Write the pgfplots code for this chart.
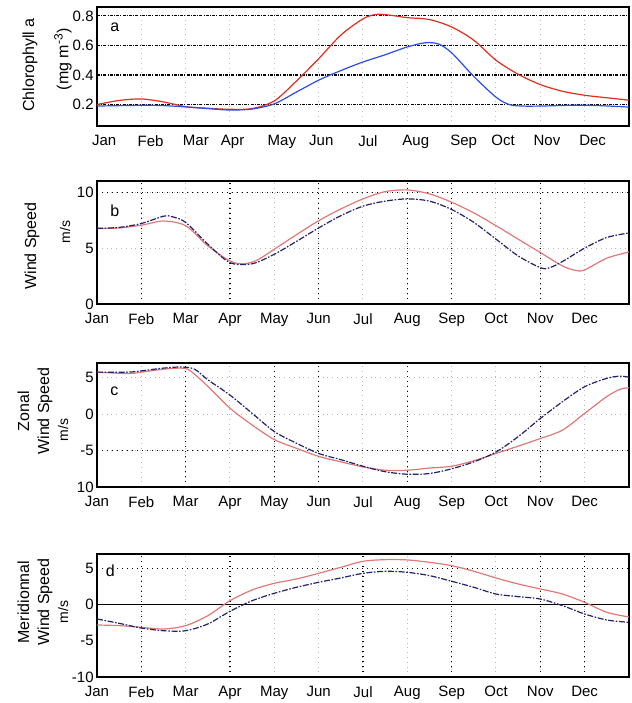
\documentclass[border=0pt]{standalone}
\usepackage{fontspec}
\setmainfont{Liberation Sans}
\usepackage{pgfplots}
\pgfplotsset{compat=1.18}

\definecolor{chlred}{RGB}{225,45,30}
\definecolor{chlblue}{RGB}{45,75,235}
\definecolor{wblue}{RGB}{35,35,105}
\definecolor{wred}{RGB}{225,120,120}

\tikzset{
  lightgrid/.style={gray!55, dotted, line width=0.5pt},
  darkgrid/.style={black, dotted, line width=0.6pt},
}
\pgfplotsset{
  panel/.style={
    anchor=north west, scale only axis, width=266pt,
    xmin=0, xmax=12,
    axis line style={black, line width=0.6pt},
    major tick length=0pt, minor tick length=0pt,
    tick label style={font=\fontsize{7.5}{9}\selectfont},
    yticklabel style={inner sep=1.5pt},
    xticklabel style={inner sep=2pt, yshift=-2.5pt},
  },
  months/.style={
    xtick={0,...,11},
    xticklabels={Jan,Feb,Mar,Apr,May,Jun,Jul,Aug,Sep,Oct,Nov,Dec},
  },
  blueline/.style={wblue, line width=0.6pt, smooth,
    dash pattern=on 3pt off 0.8pt on 0.8pt off 0.8pt},
  redline/.style={wred, line width=0.6pt, smooth},
}

\begin{document}
\begin{tikzpicture}
\useasboundingbox (0,0) rectangle (316pt,-351.5pt);
\tikzset{lab/.style={font=\fontsize{8}{10}\selectfont, rotate=90, align=center, inner sep=0pt}}

% a: chlorophyll
\begin{axis}[panel, at={(48.5pt,-3.5pt)}, height=59.5pt,
  ymin=0.055, ymax=0.86,
  xtick={0.16,1.21,2.23,3.06,4.17,5.06,6.11,7.19,8.27,9.16,10.15,11.18},
  xticklabels={Jan,Feb,Mar,Apr,May,Jun,Jul,Aug,Sep,Oct,Nov,Dec},
  minor xtick={1,...,11},
  xmajorgrids=false, xminorgrids=true, ymajorgrids=true,
  ytick={0.2,0.4,0.6,0.8}, yticklabels={0.2,0.4,0.6,0.8},
  minor grid style={gray!50, dotted, line width=0.5pt},
  major grid style={black, line width=0.6pt, dash pattern=on 1.5pt off 0.6pt on 0.5pt off 0.6pt},
]
\node[anchor=west, font=\fontsize{8}{9.5}\selectfont] at (rel axis cs:0.012,0.83) {a};
\addplot [chlred, line width=0.6pt, smooth] coordinates {
 (0,0.20)(0.5,0.228)(1,0.238)(1.5,0.218)(2,0.186)(2.5,0.175)(3,0.168)(3.5,0.173)
 (4,0.225)(4.5,0.36)(5,0.51)(5.5,0.67)(6,0.78)(6.3,0.81)(6.6,0.805)(7,0.788)
 (7.5,0.775)(8,0.725)(8.5,0.635)(9,0.5)(9.5,0.405)(10,0.335)(10.5,0.29)(11,0.263)
 (11.5,0.246)(12,0.23)};
\addplot [chlblue, line width=0.6pt, smooth] coordinates {
 (0,0.19)(1,0.195)(1.5,0.193)(2,0.184)(2.5,0.173)(3,0.163)(3.5,0.17)(4,0.205)
 (4.5,0.285)(5,0.365)(5.5,0.43)(6,0.488)(6.5,0.537)(7,0.59)(7.4,0.618)(7.7,0.61)
 (8,0.55)(8.5,0.39)(9,0.25)(9.3,0.2)(9.6,0.19)(10,0.19)(11,0.196)(12,0.183)};
\end{axis}
\node[lab] at (15pt,-32.5pt) {Chlorophyll a};
\node[lab] at (31.5pt,-29.5pt) {(mg m\textsuperscript{-3})};

% b: wind speed
\begin{axis}[panel, months, at={(48.5pt,-90.5pt)}, height=61.5pt,
  ymin=0, ymax=11,
  ytick={0,5,10}, yticklabels={0,5,10},
  grid=major, major grid style={lightgrid},
  extra x ticks={1,3,5,7,8,10}, extra x tick labels={},
  extra x tick style={major grid style={darkgrid}},
  extra y ticks={10}, extra y tick labels={},
  extra y tick style={major grid style={darkgrid}},
]
\node[anchor=west, font=\fontsize{8}{9.5}\selectfont] at (rel axis cs:0.012,0.76) {b};
\addplot [redline] coordinates {
 (0,6.75)(0.5,6.8)(1,7.05)(1.5,7.42)(2,7.0)(2.5,5.2)(3,3.85)(3.3,3.6)(3.6,3.9)
 (4,4.9)(4.5,6.2)(5,7.45)(5.5,8.5)(6,9.4)(6.5,10.05)(7,10.2)(7.5,9.85)(8,9.1)
 (8.5,8.15)(9,7.0)(9.5,5.8)(10,4.6)(10.5,3.4)(10.8,3.0)(11,3.05)(11.5,4.1)(12,4.65)};
\addplot [blueline] coordinates {
 (0,6.77)(0.5,6.85)(1,7.2)(1.5,7.85)(1.7,7.8)(2,7.3)(2.5,5.35)(3,3.7)(3.5,3.6)
 (4,4.45)(4.5,5.6)(5,6.8)(5.5,7.9)(6,8.75)(6.5,9.2)(7,9.4)(7.5,9.2)(8,8.45)
 (8.5,7.3)(9,5.8)(9.5,4.3)(10,3.25)(10.2,3.23)(10.5,3.8)(11,5.0)(11.5,5.95)(12,6.35)};
\end{axis}
\node[lab] at (16pt,-123pt) {Wind Speed};
\node[lab, font=\fontsize{7}{8}\selectfont] at (32.5pt,-116pt) {m/s};

% c: zonal wind
\begin{axis}[panel, months, at={(48.5pt,-181.5pt)}, height=62pt,
  ymin=-10, ymax=7,
  ytick={-10,-5,0,5}, yticklabels={10,-5,0,5},
  grid=major, major grid style={lightgrid},
  extra x ticks={2,4,5,7,10}, extra x tick labels={},
  extra x tick style={major grid style={darkgrid}},
  extra y ticks={-5}, extra y tick labels={},
  extra y tick style={major grid style={darkgrid}},
]
\node[anchor=west, font=\fontsize{8}{9.5}\selectfont] at (rel axis cs:0.012,0.77) {c};
\addplot [redline] coordinates {
 (0,5.75)(0.7,5.55)(1,5.75)(1.5,6.15)(1.9,6.3)(2.1,5.95)(2.5,3.8)(3,0.8)(3.5,-1.5)
 (4,-3.5)(4.5,-4.7)(5,-5.8)(5.5,-6.55)(6,-7.25)(6.5,-7.7)(7,-7.7)(7.5,-7.4)
 (8,-7.15)(8.5,-6.4)(9,-5.4)(9.5,-4.4)(10,-3.35)(10.5,-2.2)(11,0.1)(11.5,2.4)
 (11.8,3.4)(12,3.6)};
\addplot [blueline] coordinates {
 (0,5.75)(0.7,5.75)(1,5.92)(1.5,6.3)(1.9,6.45)(2.2,6.15)(2.5,4.7)(3,2.6)(3.5,0.1)
 (4,-2.4)(4.5,-4.0)(5,-5.4)(5.5,-6.25)(6,-7.15)(6.5,-7.9)(7,-8.25)(7.5,-8.15)
 (8,-7.5)(8.5,-6.55)(9,-5.2)(9.5,-3.1)(10,-0.6)(10.5,1.7)(11,3.75)(11.5,4.9)
 (11.8,5.2)(12,5.05)};
\end{axis}
\node[lab] at (17.5pt,-205.5pt) {Zonal\\Wind Speed};
\node[lab, font=\fontsize{7}{8}\selectfont] at (31.5pt,-215pt) {m/s};

% d: meridional wind
\begin{axis}[panel, months, at={(48.5pt,-277pt)}, height=61.5pt,
  ymin=-10, ymax=7,
  ytick={-10,-5,0,5}, yticklabels={-10,-5,0,5},
  xmajorgrids=true, ymajorgrids=false, major grid style={lightgrid},
  extra x ticks={1,3,6,8,10,11}, extra x tick labels={},
  extra x tick style={major grid style={darkgrid}},
  extra y ticks={5}, extra y tick labels={},
  extra y tick style={grid=major, major grid style={darkgrid}},
]
\node[anchor=west, font=\fontsize{8}{9.5}\selectfont, fill=white, inner sep=1pt] at (rel axis cs:0.012,0.86) {d};
\addplot [black, line width=0.6pt] coordinates {(0,0)(12,0)};
\addplot [redline] coordinates {
 (0,-2.81)(0.5,-2.9)(1,-3.13)(1.5,-3.36)(2,-2.9)(2.5,-1.52)(3,0.55)(3.5,2.03)
 (4,2.95)(4.5,3.55)(5,4.33)(5.5,5.16)(6,5.99)(6.5,6.22)(7,6.18)(7.5,5.85)
 (8,5.39)(8.5,4.61)(9,3.69)(9.5,2.86)(10,2.17)(10.5,1.47)(11,0.32)(11.5,-1.06)(12,-1.7)};
\addplot [blueline] coordinates {
 (0,-1.98)(0.5,-2.58)(1,-3.23)(1.5,-3.6)(2,-3.6)(2.5,-2.67)(3,-0.92)(3.5,0.55)
 (4,1.57)(4.5,2.4)(5,3.09)(5.5,3.69)(6,4.33)(6.5,4.61)(7,4.47)(7.5,4.01)(8,3.23)
 (8.5,2.4)(9,1.47)(9.5,1.11)(10,0.78)(10.5,-0.14)(11,-1.29)(11.5,-2.12)(12,-2.44)};
\end{axis}
\node[lab] at (17.5pt,-301pt) {Meridionnal\\Wind Speed};
\node[lab, font=\fontsize{7}{8}\selectfont] at (31.5pt,-306pt) {m/s};
\end{tikzpicture}
\end{document}
